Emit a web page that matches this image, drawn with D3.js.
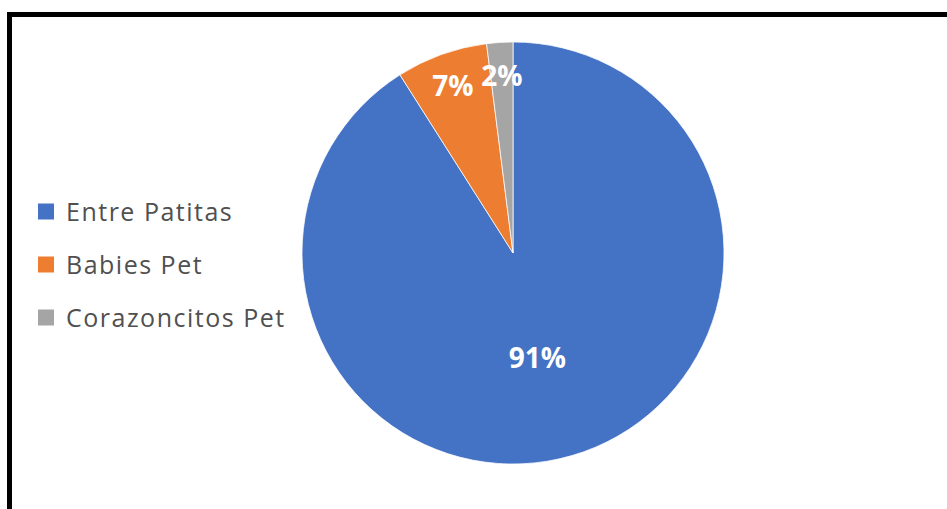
<!DOCTYPE html>
<html>
<head>
<meta charset="utf-8">
<script src="https://cdn.jsdelivr.net/npm/d3@7"></script>
<style>
  body { margin: 0; background: #ffffff; }
  svg { display: block; }
</style>
</head>
<body>
<svg id="chart" width="947" height="509"></svg>
<script>
// chart data
const categories = ["Entre Patitas", "Babies Pet", "Corazoncitos Pet"];
const values = [91, 7, 2];
const labels = ["91%", "7%", "2%"];
const colors = ["#4472C4", "#ED7D31", "#A5A5A5"];

const width = 947, height = 509;
const cx = 513, cy = 253, radius = 211;

const svg = d3.select("#chart");

// outer frame (runs past the right and bottom edges)
svg.append("rect")
    .attr("x", 9.5)
    .attr("y", 14.5)
    .attr("width", 980)
    .attr("height", 560)
    .attr("fill", "#ffffff")
    .attr("stroke", "#000000")
    .attr("stroke-width", 5);

let color = d3.scaleOrdinal()
    .domain(categories)
    .range(colors);

let pie = d3.pie()
    .sort(null)
    .value(function(d, i) {
        return values[i];
    });

let arcs = pie(categories);

let arc = d3.arc()
    .innerRadius(0)
    .outerRadius(radius);

let g = svg.append("g")
    .attr("transform", "translate(" + cx + "," + cy + ")");

g.selectAll(".slice")
    .data(arcs)
    .enter()
    .append("path")
    .attr("class", "slice")
    .attr("d", arc)
    .attr("fill", d => color(d.data))
    .attr("stroke", "#ffffff")
    .attr("stroke-width", 0.75);

// big slice label sits nearer the middle, small ones near the rim
g.selectAll(".lbl")
    .data(arcs)
    .enter()
    .append("text")
    .attr("class", "lbl")
    .attr("transform", function(d) {
        let big = (d.endAngle - d.startAngle) > Math.PI;
        let r = big ? radius * 0.51 : radius * 0.84;
        let a = (d.startAngle + d.endAngle) / 2 + (big ? 0.055 : 0);
        return "translate(" + (Math.sin(a) * r) + "," + (-Math.cos(a) * r) + ")";
    })
    .attr("text-anchor", "middle")
    .attr("dy", "0.36em")
    .attr("fill", "#ffffff")
    .style("font-family", "'Open Sans', sans-serif")
    .style("font-weight", "bold")
    .style("font-size", "28px")
    .text((d, i) => labels[i]);

// legend
let legend = svg.append("g")
    .attr("transform", "translate(38,211.5)");

let item = legend.selectAll(".item")
    .data(categories)
    .enter()
    .append("g")
    .attr("class", "item")
    .attr("transform", (d, i) => "translate(0," + (i * 53) + ")");

item.append("rect")
    .attr("x", 0)
    .attr("y", -8)
    .attr("width", 16)
    .attr("height", 16)
    .attr("fill", d => color(d));

item.append("text")
    .attr("x", 28)
    .attr("dy", "0.36em")
    .attr("fill", "#505050")
    .style("font-family", "'Open Sans', sans-serif")
    .style("font-size", "25px")
    .style("letter-spacing", "1.5px")
    .text(d => d);
</script>
</body>
</html>
